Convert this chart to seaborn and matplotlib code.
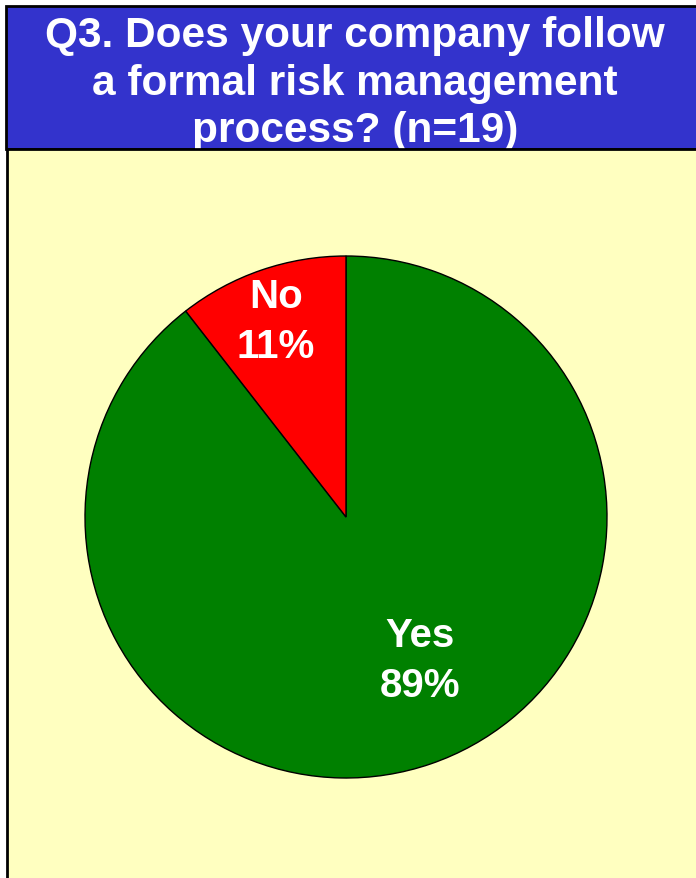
import numpy as np
import matplotlib
matplotlib.use("Agg")
import matplotlib.pyplot as plt
from matplotlib.patches import Rectangle
import seaborn as sns

# Survey answers (n=19)
categories = ["Yes", "No"]
counts = [17, 2]
slice_colors = ["#008000", "#FF0000"]
title_lines = ["Q3. Does your company follow",
               "a formal risk management",
               "process? (n=19)"]

sns.set_style("white")
plt.rcParams["font.family"] = ["Liberation Sans", "DejaVu Sans"]

W, H = 696, 879
fig = plt.figure(figsize=(W / 100, H / 100), dpi=100, facecolor="white")


def fx(px):
    return px / W


def fy(py):
    return 1 - py / H


# Title band, then the plot panel laid over its lower edge
fig.patches.append(Rectangle((fx(6), fy(150)), 1.2, fy(7) - fy(150),
                             transform=fig.transFigure, facecolor="#3333CC",
                             edgecolor="black", linewidth=2.0, zorder=1))
for i, line in enumerate(title_lines):
    fig.text(fx(355), fy(47 + 47.5 * i), line, ha="center", va="baseline",
             color="white", fontsize=30.5, fontweight="bold", zorder=2)
fig.patches.append(Rectangle((fx(7), -0.05), 1.2, fy(150) + 0.05,
                             transform=fig.transFigure, facecolor="#FFFFC0",
                             edgecolor="black", linewidth=2.0, zorder=3))

# Pie
cx, cy, R = 346, 518, 261
ax = fig.add_axes([fx(cx - R), fy(cy + R), 2 * R / W, 2 * R / H])
ax.set_zorder(5)
ax.set_facecolor("none")
wedges, _ = ax.pie(counts, colors=slice_colors, startangle=90, counterclock=False,
                   radius=1.0,
                   wedgeprops=dict(edgecolor="black", linewidth=1.0))
ax.set_xlim(-1, 1)
ax.set_ylim(-1, 1)
ax.set_aspect("auto")
ax.axis("off")

# Labels: name and share of each slice
total = sum(counts)
label_pos = {"Yes": (0.284, -0.548), "No": (-0.268, 0.751)}
for cat, n in zip(categories, counts):
    x, y = label_pos[cat]
    ax.text(x, y, f"{cat}\n{n / total:.0%}", ha="center", va="center",
            color="white", fontsize=29, fontweight="bold", linespacing=1.42)

fig.savefig("out.png", dpi=100, facecolor="white")
